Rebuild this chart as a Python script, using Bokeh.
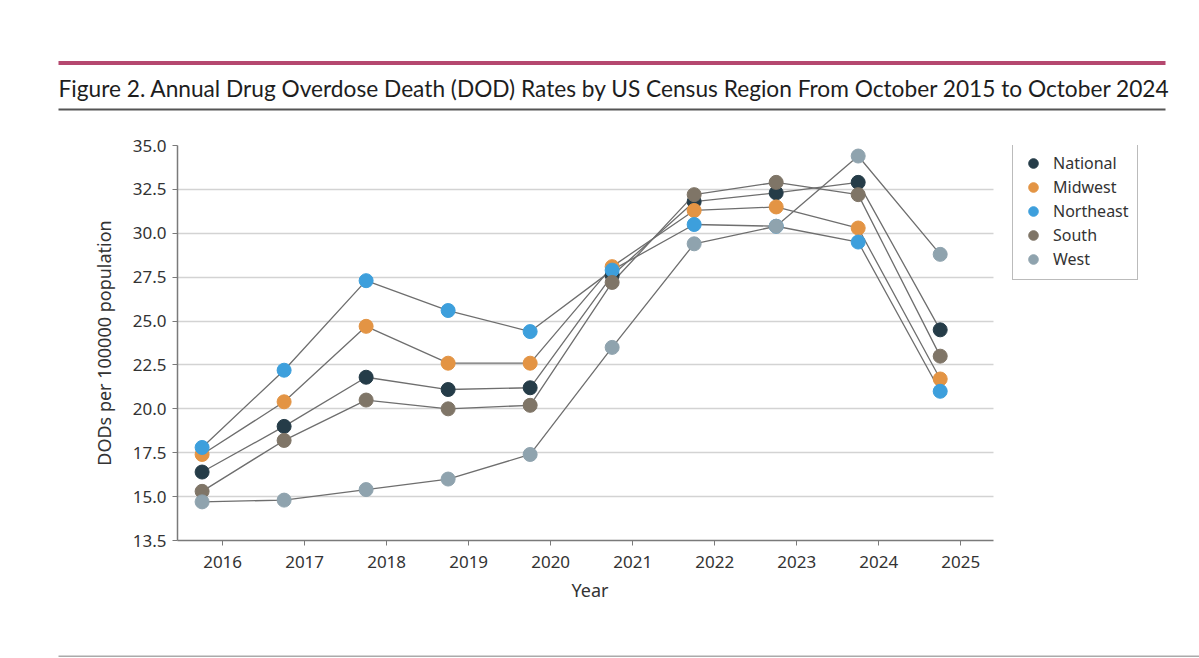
from bokeh.plotting import figure
from bokeh.models import (ColumnDataSource, Legend, LegendItem, FixedTicker, Range1d, Title)
from bokeh.core.properties import value
from bokeh.embed import file_html
from bokeh.resources import INLINE

# ---- data ----
years = [2015.75, 2016.75, 2017.75, 2018.75, 2019.75, 2020.75, 2021.75, 2022.75, 2023.75, 2024.75]
national = [16.4, 19.0, 21.8, 21.1, 21.2, 27.6, 31.8, 32.3, 32.9, 24.5]
midwest = [17.4, 20.4, 24.7, 22.6, 22.6, 28.1, 31.3, 31.5, 30.3, 21.7]
northeast = [17.8, 22.2, 27.3, 25.6, 24.4, 27.9, 30.5, 30.4, 29.5, 21.0]
south = [15.3, 18.2, 20.5, 20.0, 20.2, 27.2, 32.2, 32.9, 32.2, 23.0]
west = [14.7, 14.8, 15.4, 16.0, 17.4, 23.5, 29.4, 30.4, 34.4, 28.8]

series_names = ["National", "Midwest", "Northeast", "South", "West"]
series_values = [national, midwest, northeast, south, west]
series_colors = ["#253c48", "#e39444", "#3d9fdc", "#7f7567", "#8fa3ae"]

x_ticks = [2016, 2017, 2018, 2019, 2020, 2021, 2022, 2023, 2024, 2025]
y_ticks = [12.5, 15.0, 17.5, 20.0, 22.5, 25.0, 27.5, 30.0, 32.5, 35.0]
y_tick_labels = ["13.5", "15.0", "17.5", "20.0", "22.5", "25.0", "27.5", "30.0", "32.5", "35.0"]

title_text = "Figure 2. Annual Drug Overdose Death (DOD) Rates by US Census Region From October 2015 to October 2024"
x_label = "Year"
y_label = "DODs per 100000 population"

FONT = "Noto Sans"
W = 1199

# plotting area geometry (axis spans X_LO..X_HI over PLOT_W px; frame extends right to hold legend)
X_LO, X_HI = 2015.45, 2025.40
PLOT_W = 816
BORDER_L, BORDER_R = 177, 30
FRAME_W = W - BORDER_L - BORDER_R
X_END = X_LO + FRAME_W / PLOT_W * (X_HI - X_LO)


def blank(h):
    f = figure(width=W, height=h, output_backend="svg", toolbar_location=None,
               x_range=Range1d(0, W), y_range=Range1d(h, 0),
               x_axis_type=None, y_axis_type=None,
               min_border=0, min_border_left=0, min_border_right=0,
               min_border_top=0, min_border_bottom=0)
    f.outline_line_color = None
    f.xgrid.grid_line_color = None
    f.ygrid.grid_line_color = None
    f.background_fill_color = "white"
    f.border_fill_color = "white"
    return f


# ---- header: rules + title ----
head = blank(120)
head.quad(left=[58], right=[1165], top=[60.5], bottom=[64.5], fill_color="#b5486f", line_color=None)
head.text(x=[58], y=[88], text=[title_text], text_font=value("Lato"), text_font_size="22.7px",
          text_color="#1e1e1e", text_baseline="middle", text_align="left")
head.quad(left=[58], right=[1165], top=[108], bottom=[110], fill_color="#555555", line_color=None)

# ---- main chart ----
p = figure(width=W, height=518, output_backend="svg", toolbar_location=None,
           x_range=Range1d(X_LO, X_END), y_range=Range1d(12.5, 35.0),
           min_border_left=BORDER_L, min_border_right=BORDER_R,
           min_border_top=25, min_border_bottom=98)
p.outline_line_color = None
p.background_fill_color = "white"
p.border_fill_color = "white"

p.xgrid.grid_line_color = None
grid_ok = True
try:
    p.ygrid.cross_bounds = (X_LO, X_HI)
except Exception:
    grid_ok = False
if grid_ok:
    p.ygrid.grid_line_color = "#d3d3d3"
    p.ygrid.grid_line_width = 1.5
else:
    p.ygrid.grid_line_color = None
    p.segment(x0=[X_LO] * len(y_ticks), x1=[X_HI] * len(y_ticks), y0=y_ticks, y1=y_ticks,
              line_color="#d3d3d3", line_width=1.5, level="underlay")

p.xaxis.bounds = (X_LO, X_HI)
p.xaxis.ticker = FixedTicker(ticks=x_ticks)
p.xaxis.major_label_overrides = {t: str(t) for t in x_ticks}
p.yaxis.ticker = FixedTicker(ticks=y_ticks)
p.yaxis.major_label_overrides = {t: l for t, l in zip(y_ticks, y_tick_labels)}
p.xaxis.minor_tick_line_color = None
p.yaxis.minor_tick_line_color = None
for ax in (p.xaxis, p.yaxis):
    ax.axis_line_color = "#7a7a7a"
    ax.axis_line_width = 1.5
    ax.major_tick_line_color = "#7a7a7a"
    ax.major_tick_in = 0
    ax.major_tick_out = 5
    ax.major_label_text_font = FONT
    ax.major_label_text_font_size = "17px"
    ax.major_label_text_color = "#333333"
    ax.axis_label_text_font = FONT
    ax.axis_label_text_font_size = "18px"
    ax.axis_label_text_font_style = "normal"
    ax.axis_label_text_color = "#333333"
p.xaxis.major_label_standoff = 10
p.yaxis.major_label_standoff = 6
p.yaxis.axis_label = y_label
p.yaxis.axis_label_standoff = 14

# x-axis title centred under the axis line (not the wider frame)
xt = Title(text=x_label, align="left", offset=394, standoff=10,
           text_font=FONT, text_font_size="18px", text_font_style="normal",
           text_color="#333333")
p.add_layout(xt, "below")

for vals in series_values:
    p.line(years, vals, line_color="#6e6e6e", line_width=1.3)

items = []
for name, vals, col in zip(series_names, series_values, series_colors):
    src = ColumnDataSource(dict(x=years, y=vals))
    r = p.scatter("x", "y", source=src, size=14, fill_color=col, line_color=col)
    items.append(LegendItem(label=name, renderers=[r]))

legend = Legend(items=items, location=(835, 260))
legend.border_line_color = "#777777"
legend.border_line_width = 1
legend.background_fill_color = "white"
legend.padding = 8
legend.margin = 0
legend.spacing = 0
legend.glyph_width = 24
legend.glyph_height = 24
legend.label_height = 20
legend.label_standoff = 8
legend.label_text_font = FONT
legend.label_text_font_size = "16px"
legend.label_text_color = "#333333"
p.add_layout(legend, "center")

# ---- footer rule ----
foot = blank(20)
foot.quad(left=[58], right=[W], top=[17], bottom=[18.5], fill_color="#aaaaaa", line_color=None)

open("out.html", "w").write(file_html([head, p, foot], INLINE))
